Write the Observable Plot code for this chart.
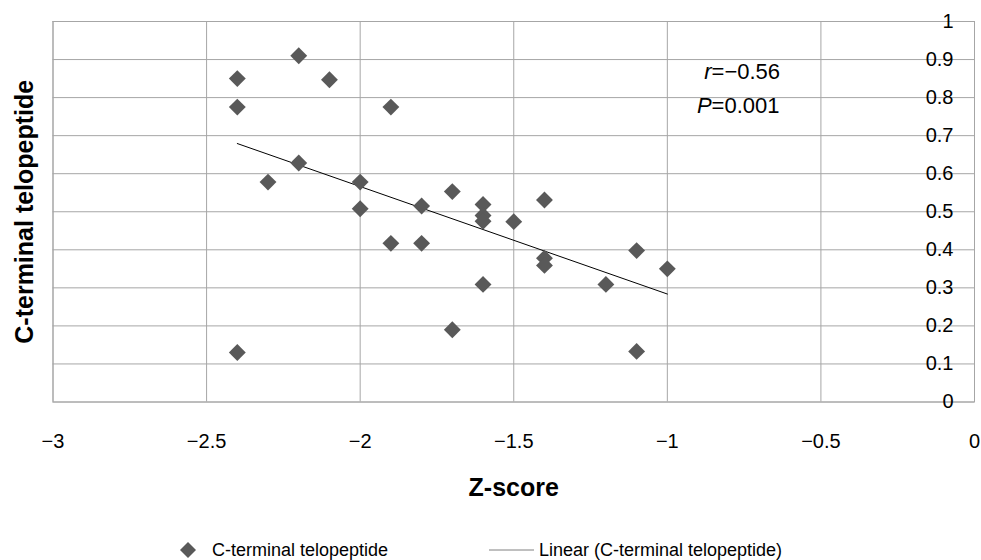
<!DOCTYPE html>
<html>
<head>
<meta charset="utf-8">
<script src="https://cdn.jsdelivr.net/npm/d3@7"></script>
<script src="https://cdn.jsdelivr.net/npm/@observablehq/plot@0.6"></script>
<style>
  html, body { margin: 0; padding: 0; background: #fff; }
  body { width: 981px; height: 560px; overflow: hidden; font-family: "Liberation Sans", Arial, sans-serif; }
  #legend { position: relative; height: 30px; font-size: 18px; color: #000; }
  #legend .item { position: absolute; top: 5px; height: 30px; display: flex; align-items: center; }
  #legend svg { display: block; }
</style>
</head>
<body>
<div id="chart"></div>
<div id="legend"></div>
<script>
// Z-score (x) and C-terminal telopeptide (y)
const zScore = [-2.4, -2.4, -2.4, -2.3, -2.2, -2.2, -2.1, -2.0, -2.0, -1.9, -1.9, -1.8, -1.8, -1.7, -1.7,
                -1.6, -1.6, -1.6, -1.6, -1.5, -1.4, -1.4, -1.4, -1.2, -1.1, -1.1, -1.0];
const ctx    = [0.85, 0.775, 0.13, 0.578, 0.91, 0.628, 0.847, 0.578, 0.508, 0.775, 0.417, 0.515, 0.417, 0.553, 0.19,
                0.519, 0.49, 0.475, 0.309, 0.474, 0.531, 0.378, 0.359, 0.309, 0.398, 0.133, 0.35];

const xTicks = [-3, -2.5, -2, -1.5, -1, -0.5, 0];
const yTicks = [0, 0.1, 0.2, 0.3, 0.4, 0.5, 0.6, 0.7, 0.8, 0.9, 1];

const xLabel = "Z-score";
const yLabel = "C-terminal telopeptide";
const seriesName = "C-terminal telopeptide";
const trendName = "Linear (C-terminal telopeptide)";

// annotation
const annLetters = ["r", "P"];
const annValues = ["=\u22120.56", "=0.001"];
const annX = [-0.856, -0.856];
const annY = [0.867, 0.777];

const data = zScore.map((z, i) => ({z, c: ctx[i]}));
const ann = annLetters.map((l, i) => ({l, v: annValues[i], x: annX[i], y: annY[i]}));

const grid = "#a6a6a6";
const font = "'Liberation Sans', Arial, sans-serif";

const plot = Plot.plot({
  width: 981,
  height: 530,
  marginLeft: 52.5,
  marginRight: 7,
  marginTop: 21,
  marginBottom: 128.5,
  style: {fontFamily: font, fontSize: "20px", color: "#000", background: "#fff"},
  x: {domain: [-3, 0]},
  y: {domain: [0, 1]},
  marks: [
    Plot.gridX(xTicks, {stroke: grid, strokeOpacity: 1, strokeWidth: 1}),
    Plot.gridY(yTicks, {stroke: grid, strokeOpacity: 1, strokeWidth: 1}),
    Plot.frame({stroke: grid, strokeWidth: 1}),
    Plot.axisX(xTicks, {anchor: "bottom", tickSize: 0, tickPadding: 32, label: null,
      tickFormat: d => String(d).replace("-", "\u2212"), fontSize: 20}),
    Plot.axisY(yTicks, {anchor: "right", tickSize: 0, tickPadding: 0, textAnchor: "end", dx: -21, label: null,
      tickFormat: d => String(d), fontSize: 20}),
    Plot.linearRegressionY(data, {x: "z", y: "c", stroke: "#000", strokeWidth: 1, ci: 0}),
    Plot.dot(data, {x: "z", y: "c", symbol: "diamond2", r: 7.6, fill: "#595959", stroke: "none"}),
    Plot.text(ann, {x: "x", y: "y", text: "l", textAnchor: "end", fontStyle: "italic", fontSize: 22, fill: "#000"}),
    Plot.text(ann, {x: "x", y: "y", text: "v", textAnchor: "start", fontSize: 22, fill: "#000"}),
    Plot.text([yLabel], {text: d => d, frameAnchor: "left", textAnchor: "middle", rotate: -90, dx: -28, fontSize: 25, fontWeight: "bold", fill: "#000"}),
    Plot.text([xLabel], {text: d => d, frameAnchor: "bottom", textAnchor: "middle", dy: 86, lineAnchor: "middle", fontSize: 25, fontWeight: "bold", fill: "#000"})
  ]
});
document.getElementById("chart").appendChild(plot);

// legend
const legend = document.getElementById("legend");
const item1 = document.createElement("div");
item1.className = "item";
item1.style.left = "179px";
item1.innerHTML = `<svg width="18" height="18"><path d="M9,1L17,9L9,17L1,9Z" fill="#595959"/></svg><span style="margin-left:15px"></span>`;
item1.querySelector("span").textContent = seriesName;
const item2 = document.createElement("div");
item2.className = "item";
item2.style.left = "489px";
item2.innerHTML = `<svg width="46" height="10"><line x1="0" y1="5" x2="45" y2="5" stroke="#808080" stroke-width="1"/></svg><span style="margin-left:4px"></span>`;
item2.querySelector("span").textContent = trendName;
legend.append(item1, item2);
</script>
</body>
</html>
